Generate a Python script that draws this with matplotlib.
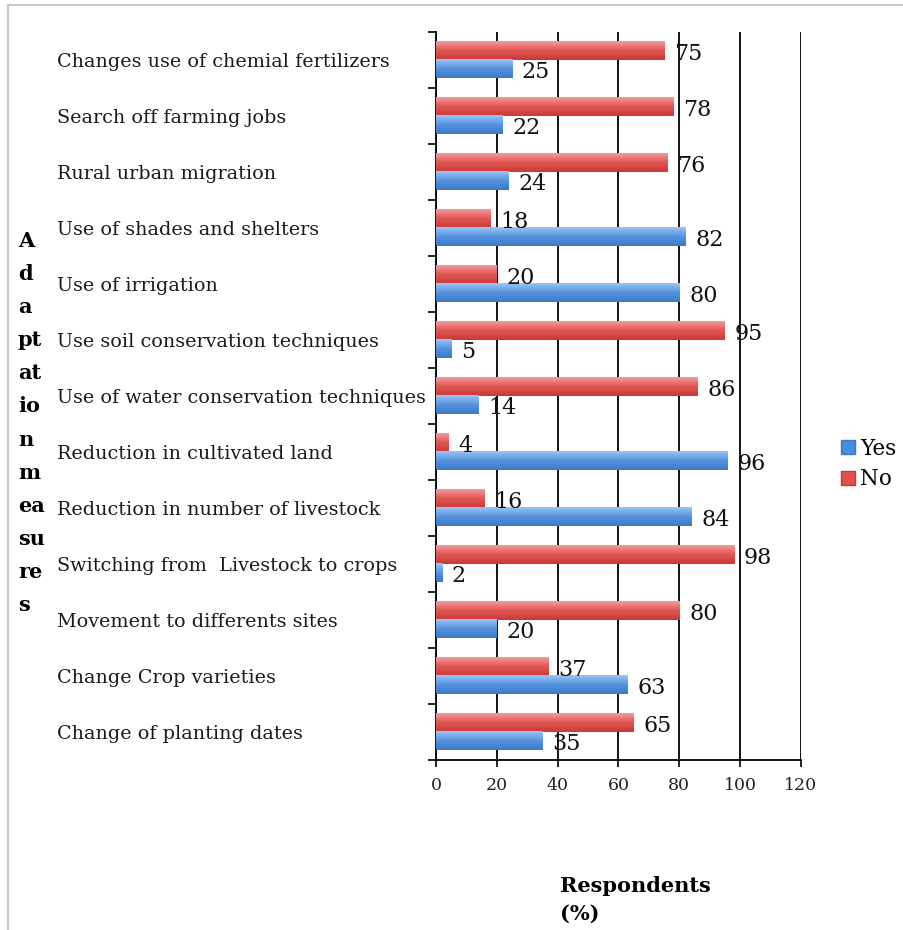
import numpy as np
import matplotlib.pyplot as plt
from matplotlib.lines import Line2D
from matplotlib.patches import Patch
from matplotlib.colors import LinearSegmentedColormap
import matplotlib.transforms as mtransforms

measures = [
    "Changes use of chemial fertilizers",
    "Search off farming jobs",
    "Rural urban migration",
    "Use of shades and shelters",
    "Use of irrigation",
    "Use soil conservation techniques",
    "Use of water conservation techniques",
    "Reduction in cultivated land",
    "Reduction in number of livestock",
    "Switching from  Livestock to crops",
    "Movement to differents sites",
    "Change Crop varieties",
    "Change of planting dates",
]
no_pct = [75, 78, 76, 18, 20, 95, 86, 4, 16, 98, 80, 37, 65]
yes_pct = [25, 22, 24, 82, 80, 5, 14, 96, 84, 2, 20, 63, 35]
xticks = [0, 20, 40, 60, 80, 100, 120]

red = "#E0504E"
blue = "#4A8CDC"
red_cmap = LinearSegmentedColormap.from_list("r", ["#F49A98", "#E05553", "#C93A38"])
blue_cmap = LinearSegmentedColormap.from_list("b", ["#9CC3F2", "#5594E0", "#3B78C8"])

serif = "DejaVu Serif"

fig = plt.figure(figsize=(9.04, 9.30), dpi=100)
ax = fig.add_axes([436 / 904, 1 - 760 / 930, 365 / 904, 728 / 930])

y = np.arange(len(measures))
h = 0.33
no_bars = ax.barh(y - h / 2, no_pct, height=h, color=red, zorder=3)
yes_bars = ax.barh(y + h / 2, yes_pct, height=h, color=blue, zorder=3)

# vertical shading inside each bar
grad = np.linspace(0, 1, 64).reshape(-1, 1)
for bars, cmap in ((no_bars, red_cmap), (yes_bars, blue_cmap)):
    for b in bars:
        x0, y0 = b.get_x(), b.get_y()
        w, hh = b.get_width(), b.get_height()
        ax.imshow(grad, cmap=cmap, aspect="auto", zorder=4,
                  extent=(x0, x0 + w, y0 + hh, y0), interpolation="bilinear")

for bars, vals in ((no_bars, no_pct), (yes_bars, yes_pct)):
    for b, v in zip(bars, vals):
        ax.annotate(str(v), (b.get_width(), b.get_y() + b.get_height() / 2),
                    xytext=(7, -2), textcoords="offset points",
                    ha="left", va="center", fontsize=16, family=serif,
                    color="#111111", zorder=5, annotation_clip=False)

ax.set_xlim(0, 120)
ax.set_ylim(len(measures) - 0.5, -0.5)
ax.set_xticks(xticks)
ax.set_xticklabels([str(t) for t in xticks], family=serif, fontsize=12.5,
                   color="#222222")
ax.set_yticks(np.arange(len(measures) + 1) - 0.5)
ax.set_yticklabels([])
ax.tick_params(axis="y", length=6, width=1.2, direction="out")
ax.tick_params(axis="x", length=5, width=1.2, direction="out", pad=7)
ax.grid(axis="x", color="black", linewidth=1.3, zorder=1)
ax.spines["top"].set_visible(False)
ax.spines["right"].set_visible(False)
ax.spines["left"].set_linewidth(1.3)
ax.spines["bottom"].set_linewidth(1.3)

# category names, left aligned in the figure margin
trans = mtransforms.blended_transform_factory(fig.transFigure, ax.transData)
for i, name in enumerate(measures):
    ax.annotate(name, (57 / 904, i), xycoords=trans, xytext=(0, -1.5),
                textcoords="offset points", ha="left", va="center",
                fontsize=13.75, family=serif, color="#1a1a1a")

# stacked axis title
ylab = ["A", "d", "a", "pt", "at", "io", "n", "m", "ea", "su", "re", "s"]
fig.text(18 / 904, 1 - 423 / 930, "\n".join(ylab), ha="left", va="center",
         fontsize=15, fontweight="bold", family=serif, linespacing=1.82)

fig.text(560 / 904, 1 - 900 / 930, "Respondents\n(%)", ha="left", va="center",
         fontsize=15, fontweight="bold", family=serif, linespacing=1.5)

handles = [Patch(facecolor=blue, edgecolor="#3B78C8"),
           Patch(facecolor=red, edgecolor="#C93A38")]
fig.legend(handles, ["Yes", "No"], loc="center left",
           bbox_to_anchor=(830 / 904, 1 - 464 / 930), frameon=False,
           prop={"family": serif, "size": 15.5}, handlelength=0.65,
           handleheight=0.65, handletextpad=0.25, labelspacing=0.4,
           borderpad=0)

# thin grey frame on the left and top
fig.add_artist(Line2D([8 / 904, 8 / 904], [0, 1 - 5 / 930],
                      transform=fig.transFigure, color="#C8C8C8", lw=1.5))
fig.add_artist(Line2D([8 / 904, 1], [1 - 5 / 930, 1 - 5 / 930],
                      transform=fig.transFigure, color="#C8C8C8", lw=1.5))

fig.savefig("out.png", dpi=100)
